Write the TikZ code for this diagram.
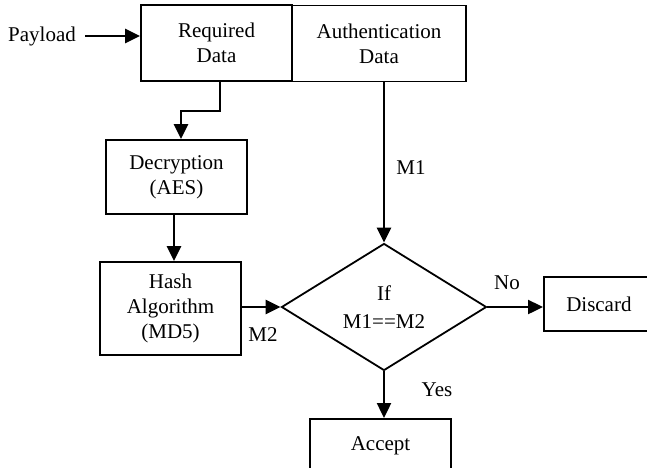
\documentclass[tikz,border=0pt]{standalone}
\usepackage{fontspec}
\setmainfont{Liberation Serif}
\usetikzlibrary{arrows.meta,shapes.geometric}
\tikzset{
  box/.style={draw, line width=1.8pt, inner sep=0pt, align=center, font=\fontsize{21}{25}\selectfont},
  lbl/.style={inner sep=0pt, font=\fontsize{21}{25}\selectfont},
  arr/.style={line width=2.4pt, -{Triangle[length=15pt,width=14pt]}},
  plain/.style={line width=2.4pt}
}
\begin{document}
\begin{tikzpicture}[x=1pt,y=-1pt]
\useasboundingbox (0,0) rectangle (647,467);
\node[lbl] (pay) at (42,36) {Payload};
\node[box, minimum width=151pt, minimum height=76pt] (req) at (216.5,43) {Required\\Data};
\node[box, minimum width=174pt, minimum height=76pt] (auth) at (379,43.5) {Authentication\\Data};
\node[box, minimum width=141pt, minimum height=74pt] (dec) at (176.5,177) {Decryption\\(AES)};
\node[box, minimum width=141pt, minimum height=93pt] (hash) at (170.5,308.5) {Hash\\Algorithm\\(MD5)};
\node[draw, line width=1.8pt, shape=diamond, minimum width=205pt, minimum height=127pt, inner sep=0pt, align=center, font=\fontsize{21}{28}\selectfont] (dia) at (384,307) {If\\M1==M2};
\node[box, anchor=west, minimum width=110pt, minimum height=54pt] (dis) at (543,304) {Discard};
\node[box, anchor=north, minimum width=141pt, minimum height=54pt] (acc) at (380.5,418) {Accept};
\node[lbl] (m1) at (411,168) {M1};
\node[lbl] (m2) at (263,335) {M2};
\node[lbl] (no) at (507,283) {No};
\node[lbl] (yes) at (437,390) {Yes};
\draw[arr] ([xshift=9pt]pay.east) -- (pay.east -| req.west);
\draw[arr] ([xshift=3.5pt]req.south) -- ++(0,29) -| ([xshift=4.5pt]dec.north);
\draw[arr] ([xshift=-2.5pt]dec.south) -- ([xshift=3.5pt]hash.north);
\draw[arr] (auth.south -| dia.north) -- (dia.north);
\draw[arr] (hash.east |- dia.west) -- (dia.west);
\draw[arr] (dia.east) -- (dia.east -| dis.west);
\draw[arr] (dia.south) -- (dia.south |- acc.north);
\end{tikzpicture}
\end{document}
